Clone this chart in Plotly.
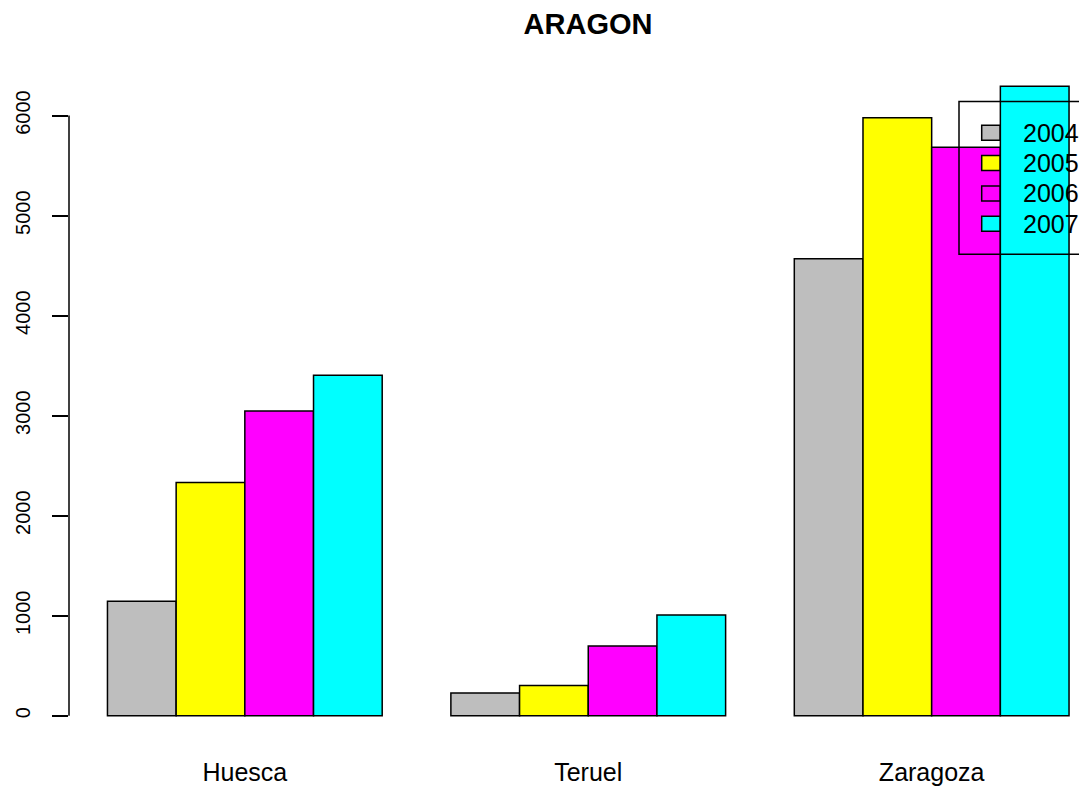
import plotly.graph_objects as go

provinces = ["Huesca", "Teruel", "Zaragoza"]
years = ["2004", "2005", "2006", "2007"]
v2004 = [1146, 227, 4569]
v2005 = [2333, 303, 5978]
v2006 = [3047, 698, 5684]
v2007 = [3405, 1007, 6294]
series = [v2004, v2005, v2006, v2007]
colors = ["#BEBEBE", "#FFFF00", "#FF00FF", "#00FFFF"]
yticks = [0, 1000, 2000, 3000, 4000, 5000, 6000]
title = "ARAGON"

W, H = 1079, 786
ML, MR, MT, MB = 69, 0, 61, 42
FONT = "Liberation Sans, Arial, Helvetica, sans-serif"

def px_x(px):
    return (px - ML) / (W - ML - MR)

def px_y(py):
    return (H - MB - py) / (H - MT - MB)

fig = go.Figure()
for yr, vals, col in zip(years, series, colors):
    fig.add_trace(go.Bar(
        x=provinces, y=vals, name=yr,
        marker=dict(color=col, line=dict(color="black", width=1.5)),
    ))

ymax = max(max(s) for s in series)
ypad = 0.04 * ymax

shapes = []
shapes.append(dict(type="line", xref="paper", yref="y", x0=0, x1=0,
                   y0=yticks[0], y1=yticks[-1], line=dict(color="black", width=1.5)))
shapes.append(dict(type="rect", xref="paper", yref="paper",
                   x0=px_x(959), x1=px_x(1120), y0=px_y(255), y1=px_y(101.7),
                   line=dict(color="black", width=1.5), fillcolor="rgba(0,0,0,0)", layer="above"))
annotations = []
row_y = [133, 163.5, 194, 224.5]
for yr, col, cy in zip(years, colors, row_y):
    shapes.append(dict(type="rect", xref="paper", yref="paper",
                       x0=px_x(981.7), x1=px_x(1000), y0=px_y(cy + 7.5), y1=px_y(cy - 7.5),
                       line=dict(color="black", width=1.5), fillcolor=col, layer="above"))
    annotations.append(dict(xref="paper", yref="paper", x=px_x(1021), y=px_y(cy),
                            text=yr, showarrow=False, xanchor="left", yanchor="middle",
                            font=dict(family=FONT, size=25, color="black")))

fig.update_layout(
    width=W, height=H, autosize=False,
    margin=dict(l=ML, r=MR, t=MT, b=MB, pad=0),
    paper_bgcolor="white", plot_bgcolor="white",
    barmode="group", bargap=0.2, bargroupgap=0,
    showlegend=False,
    title=dict(text="<b>%s</b>" % title, x=588 / W, xanchor="center",
               y=1 - 24 / H, yanchor="middle", yref="container",
               font=dict(family=FONT, size=29, color="black")),
    xaxis=dict(range=[-0.512, 2.429], showgrid=False, zeroline=False, showline=False,
               ticks="", tickfont=dict(family=FONT, size=25, color="black"),
               ticklabelstandoff=14),
    yaxis=dict(range=[-ypad, ymax + ypad], showgrid=False, zeroline=False, showline=False,
               tickvals=yticks, ticktext=[str(t) for t in yticks],
               ticks="outside", ticklen=16, tickwidth=1.5, tickcolor="black",
               tickangle=-90, tickfont=dict(family=FONT, size=20, color="black"),
               ticklabelstandoff=14),
    shapes=shapes, annotations=annotations,
)

fig.write_html("out.html", config={"displayModeBar": False},
               post_script="document.body.style.margin='0';")
